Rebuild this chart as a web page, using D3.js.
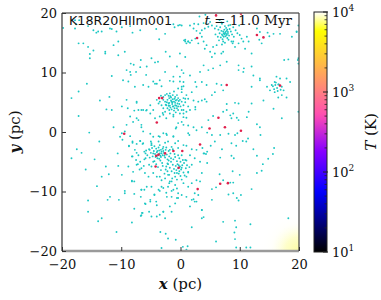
<!DOCTYPE html>
<html><head><meta charset="utf-8">
<script src="https://cdn.jsdelivr.net/npm/d3@7"></script>
<style>html,body{margin:0;padding:0;background:#fff;}svg{display:block;}</style>
</head><body>
<script>
// ---- data (pc) ----
const xTicks = [-20, -10, 0, 10, 20];
const yTicks = [-20, -10, 0, 10, 20];
const tempTicks = [10, 100, 1000, 10000];
const tempRange = [10, 10000];
const runLabel = "K18R20HIIm001";
const timeMyr = "11.0";

const fieldStars = [
[-17.8,17.4],[-14.7,17.1],[-14.2,16.7],[-13.3,16.9],[-11.6,17.3],[-9.9,17.6],[-8.5,17.8],[-8.1,16.7],[-6.8,17.1],[-4.1,17.3],[-2.6,16.5],[-1.0,17.6],[-0.4,17.9],[-3.6,15.6],
[-17.2,14.9],[-16.4,14.9],[-15.6,14.3],[-12.7,13.5],[-12.7,13.2],[-14.7,13.7],[-15.3,13.1],[-15.3,12.4],[-11.3,14.6],[-10.5,15.2],[-10.5,12.9],[-9.4,13.5],
[-8.4,11.5],[-7.9,11.3],[-6.7,12.1],[-7.5,10.1],[-8.5,10.1],[-9.1,10.4],[-8.4,9.6],[-6.8,10.9],[-5.8,9.6],[-5.7,11.0],[-4.9,12.4],[-4.3,11.7],[-3.8,11.8],
[-2.5,13.5],[-1.8,12.7],[-2.6,10.1],[-1.2,9.3],[-0.6,11.0],[-1.2,8.5],[-0.4,7.3],[-15.8,8.1],[-11.6,9.4],[-9.7,8.7],[-8.8,8.5],[-7.7,7.6],[-6.3,7.9],
[-5.4,7.6],[-4.6,8.5],[-4.0,8.1],[-3.5,8.7],[-17.2,6.8],[-18.4,5.7],[-12.0,5.9],[-13.6,5.3],[-12.5,3.8],[-11.6,3.7],[-9.9,4.3],[-8.9,4.0],[-8.5,2.6],
[-7.4,2.3],[-7.1,3.7],[-6.6,3.7],[-5.7,3.7],[-7.4,4.9],[-9.1,5.4],[-17.2,2.7],[-11.3,0.8],[-9.1,1.2],[-6.6,0.8],[-4.6,3.7],[-3.5,2.6],[-2.4,2.3],[-0.7,0.8],
[-19.8,17.5],[-17.8,18.8],[-17.6,18.1],[-17.1,18.8],[-15.6,17.8],[-13.9,16.9],[-11.9,17.4],[-10.8,16.9],[-1.2,18.1],[-0.1,18.0],[0.8,15.5],[1.3,15.2],
[-4.3,8.1],[-3.2,7.7],[-1.8,8.6],[-0.1,8.5],[0.5,7.7],[0.2,7.2],[-7.4,5.1],[-7.8,3.6],[-6.3,3.7],[-5.8,3.6],[-7.1,2.0],[-8.0,1.7],[-6.6,1.2],[-4.3,2.3],
[-2.9,2.9],[-5.1,4.5],[-5.1,3.1],[-1.2,2.6],[0.5,3.1],[1.3,4.3],[-0.4,1.5],[0.5,1.2],[-0.8,0.6],[-2.9,-0.2],[-2.3,-0.5],[-3.5,-0.8],[-4.6,-0.8],[-6.3,0.1],
[-1.2,-0.8],[1.3,-0.2],
[0.2,17.9],[1.6,17.9],[2.3,18.2],[3.0,18.1],[3.9,18.3],[4.4,18.2],[5.0,18.5],[3.2,19.4],[4.2,19.7],[2.2,17.4],[2.7,17.0],[3.6,17.1],[4.1,17.4],[4.7,17.7],[5.3,17.9],[5.8,17.4],
[3.3,16.6],[3.6,16.0],[2.5,15.7],[1.9,15.4],[1.3,15.2],[0.8,15.2],[0.6,15.4],[1.0,14.9],[1.6,15.0],
[3.0,14.9],[3.9,15.2],[4.4,14.6],[4.1,14.0],[5.5,14.3],[6.1,14.6],[5.0,13.5],[5.8,13.2],[6.9,13.2],[7.2,13.5],[5.3,12.6],
[8.9,15.2],[9.2,14.3],[9.8,14.9],[10.3,15.7],[10.6,15.2],[10.0,16.3],[11.2,16.0],[11.5,15.2],[10.9,14.0],[12.0,13.2],
[13.3,15.5],[13.7,14.9],[14.7,16.7],[15.0,16.1],[15.7,16.5],[16.8,16.5],[18.8,16.0],[19.6,16.8],[19.9,17.9],[12.9,17.4],[13.4,16.8],
[17.5,12.1],[18.2,12.2],[19.9,11.5],[19.9,12.4],[-0.1,13.2],[0.8,12.6],
[3.9,11.2],[4.7,10.4],[5.5,10.7],[6.7,11.2],[7.8,11.8],[9.8,11.2],[10.7,10.7],[12.0,11.0],[10.6,10.1],[12.3,9.5],[13.4,9.0],[9.8,10.4],
[0.2,10.4],[0.5,9.9],[-0.1,9.3],[0.5,8.4],[0.2,7.6],[1.6,9.5],[3.3,10.1],[2.5,8.4],[3.6,8.4],[4.4,7.9],[2.7,7.6],[1.9,6.7],[1.0,6.2],[0.8,5.6],[0.2,6.7],
[6.1,8.1],[6.9,7.9],[7.2,7.0],[5.8,6.7],[5.3,6.2],
[12.0,7.6],[13.4,8.7],[14.6,7.6],[15.1,7.0],[15.9,8.4],[16.2,9.3],[16.8,9.0],[17.4,7.0],[17.9,9.0],[18.5,8.4],[17.1,6.2],[16.5,5.8],[17.9,5.8],[15.9,6.7],[14.0,5.3],[15.7,3.9],[19.9,3.4],[17.1,2.3],
[1.3,5.6],[2.2,5.3],[3.6,5.3],[4.1,5.5],[4.4,5.1],[3.0,5.1],[2.5,4.2],[2.5,3.8],[1.6,3.7],[1.0,3.4],[0.5,3.7],[0.5,2.5],[1.0,2.4],[0.2,1.7],[1.3,1.1],[2.2,0.8],[2.7,0.3],[3.6,0.8],[4.7,2.0],[5.5,2.7],
[7.2,3.4],[7.8,3.7],[8.4,2.8],[8.6,2.3],[8.9,3.1],[9.5,2.4],[9.8,2.0],[11.2,2.5],[11.5,3.4],[12.9,1.3],[13.4,0.8],[12.0,4.8],[9.2,4.9],[9.8,4.8],[7.8,4.7],
[-15.4,-0.1],[-13.7,-1.6],[-17.5,-2.9],[-16.7,-3.5],[-18.4,-4.4],[-14.5,-4.6],[-16.0,-6.3],[-12.6,-5.8],[-13.3,-7.5],[-12.1,-7.1],[-10.6,-3.6],[-10.5,-5.7],
[-9.9,-7.2],[-14.1,-9.1],[-9.4,-9.9],[-15.6,-11.5],[-11.9,-10.9],[-12.3,-11.4],[-10.4,-11.4],[-15.6,-13.4],[-13.3,-14.5],[-13.9,-15.0],[-8.2,-15.2],
[-7.8,-12.9],[-10.8,-16.8],[-6.6,-14.0],[-6.5,-13.6],[-5.3,-13.4],[-5.9,-12.1],[-4.1,-11.7],[-5.1,-11.4],[-2.9,-13.4],[-7.8,-10.4],[-6.6,-9.7],[-6.1,-9.7],
[-4.4,-10.5],[-3.5,-9.9],[-2.9,-9.4],[-2.4,-10.2],[-1.5,-9.9],[-0.6,-9.5],[-0.4,-11.1],[-1.5,-10.9],[-1.9,-8.6],[-3.5,-7.5],[-8.2,-8.2],[-7.8,-8.3],[-9.4,-10.3],
[-3.4,-16.8],[-2.5,-17.1],[-2.1,-17.9],[-0.8,-18.1],[-3.2,-19.5],[-9.9,-0.2],[-9.4,0.1],[-10.2,-0.8],[-8.5,-0.7],[-9.8,-1.3],[-8.1,-1.6],[-8.7,-2.4],
[-6.8,-1.5],[-6.4,-2.0],[-7.4,-3.5],[-8.1,-4.1],[-7.5,-4.7],[-7.2,-5.4],[-6.9,-6.3],[-6.2,-5.7],[-5.9,-3.6],[-6.1,-4.6],[-5.1,-0.3],[-3.7,-0.7],[-2.4,-0.3],
[-1.2,-0.7],[-4.9,-1.9],[-5.2,-3.0],
[-8.7,-2.3],[-8.1,-1.8],[-7.4,-2.0],[-6.8,-1.5],[-6.3,-1.9],[-5.0,-1.6],[-4.9,-2.2],[-3.7,-1.6],[-2.6,-1.8],[-2.1,-1.6],[-0.9,-1.9],[-0.4,-1.5],[1.0,-2.3],
[1.9,-2.9],[2.7,-3.0],[3.7,-2.7],[4.0,-3.6],[2.4,-4.4],[3.3,-5.0],[1.9,-5.5],[3.6,-6.9],[2.7,-8.1],[3.3,-8.3],[1.9,-8.6],[1.3,-9.2],[2.4,-10.3],[3.0,-10.6],
[2.2,-11.3],[2.7,-11.7],[3.6,-13.1],[1.0,-10.9],[0.2,-10.6],[-0.6,-11.1],[-0.9,-12.0],[-1.8,-12.5],[-2.9,-13.4],[-3.5,-13.9],[-4.9,-14.2],[-4.0,-12.3],
[-5.1,-11.7],[-6.0,-12.0],[-6.7,-10.9],[-6.6,-9.7],[-5.7,-9.2],[-4.9,-9.2],[-4.4,-10.6],[-3.7,-9.7],[-3.2,-9.2],[-2.1,-9.2],[-1.2,-9.7],[-0.4,-10.3],
[-2.3,-10.9],[-8.2,-8.3],[-8.0,-6.7],[-8.8,-5.8],[-7.4,-5.5],[-6.8,-5.0],[-6.6,-6.1],[-6.0,-6.9],[-5.4,-7.5],[-7.1,-3.9],[-7.7,-3.0],[-8.2,-4.1],[-6.1,-3.3],
[-5.9,-4.4],[-5.3,-5.5],[-4.6,-6.9],[-4.0,-7.5],[-3.2,-8.1],[-2.6,-7.8],[-2.1,-7.2],[-1.5,-8.3],[-0.9,-8.9],[0.5,-8.6],[1.0,-7.5],[1.3,-6.7],[0.8,-4.7],
[0.2,-3.9],[1.6,-3.9],[-1.5,-2.5],[-0.4,-2.7],[0.5,-2.2],[-6.7,-14.1],[-6.4,-13.6],[-4.0,-14.2],[-2.6,-14.5],[-1.5,-13.4],
[1.5,-0.5],[4.5,-0.1],[5.3,-0.5],[6.7,-0.5],[8.1,-0.3],[9.2,-0.5],[9.6,-0.2],[11.4,-1.1],[13.5,-0.5],[10.5,-1.5],[11.1,-1.6],[8.6,-1.9],[9.4,-2.3],
[5.8,-1.6],[5.1,-2.3],[4.5,-3.3],[4.3,-3.7],[3.9,-3.6],[7.0,-2.9],[12.3,-2.9],[15.8,-2.7],[15.6,-3.7],[12.9,-4.0],[14.8,-4.5],[8.6,-4.0],[9.0,-4.4],
[6.7,-4.3],[4.5,-5.2],[13.9,-5.4],[13.7,-6.5],[12.9,-6.9],[10.0,-7.2],[8.8,-6.6],[6.6,-7.1],[12.0,-9.6],[10.2,-10.6],[9.5,-11.1],[9.8,-11.5],[8.9,-10.3],
[8.1,-10.5],[6.0,-9.3],[5.3,-9.6],[7.2,-8.1],[8.4,-8.5],[8.9,-8.5],[5.3,-11.4],[3.6,-13.1],[3.9,-14.3],[3.6,-14.5],[1.9,-16.0],[7.2,-15.1],[9.2,-14.9],
[9.4,-16.0],[9.1,-16.9],[9.2,-18.0],[11.8,-15.5],[18.2,-14.5],[6.0,-18.4],[9.4,-19.4],[11.1,-19.4],[11.8,-19.4],[0.4,-19.3],[1.2,-19.2],[1.0,-19.8],
[1.9,-11.4],[2.4,-11.7],[1.6,-12.5],[19.6,16.9],[19.8,12.1]
];

const clusterNorth = [
[7.5,16.6],[7.2,16.9],[7.8,16.3],[7.0,16.4],[8.0,16.8],[7.4,17.2],[7.7,17.5],[6.9,17.0],[8.2,16.2],[7.3,16.0],[7.9,15.8],[6.6,16.6],[8.5,16.9],[7.1,15.6],
[8.3,17.3],[7.6,16.1],[6.8,15.9],[8.7,16.4],[7.5,17.8],[6.4,17.2],[8.9,17.6],[7.2,15.2],[8.1,15.5],[6.3,16.0],[9.0,16.0],[7.0,18.2],[8.4,18.0],[6.7,17.6],
[7.8,17.0],[7.3,16.6],[7.6,16.8],[8.0,16.5],[7.1,16.2],[7.9,17.2],[6.9,18.4],[8.6,15.2],[6.1,17.8],[9.3,17.1],[7.5,15.0],[6.5,15.4],[7.7,16.5],[7.4,16.4],
[8.1,17.9],[6.6,18.8],[7.9,18.6],[9.6,16.6],[5.9,16.4],[7.0,14.7],[8.8,14.9],[9.9,17.9]
];

const clusterMid = [
[-2.6,6.2],[-2.3,6.4],[-2.0,6.1],[-1.8,6.5],[-1.3,6.2],[-0.9,5.9],[-0.6,6.2],[-0.4,5.7],[-0.1,5.4],[0.2,5.1],[0.5,4.5],[-2.9,5.4],[-2.6,5.1],[-2.2,5.4],
[-1.9,5.7],[-1.6,5.3],[-1.3,5.5],[-1.1,5.1],[-0.8,5.3],[-0.5,4.8],[-0.2,4.7],[0.0,4.3],[-2.4,4.5],[-2.0,4.8],[-1.8,4.4],[-1.4,4.7],[-1.2,4.3],[-0.9,4.5],
[-0.6,4.0],[-0.4,3.7],[-2.2,4.0],[-1.9,3.7],[-1.5,3.8],[-1.1,3.6],[-0.8,3.3],[-2.9,4.0],[-3.2,4.5],[-3.5,5.1],[-2.6,3.4],[-1.8,3.1],[-1.2,2.9],[-0.4,4.3],
[0.2,3.7],[0.5,5.7],[-2.9,5.9],[-3.3,6.1],[-3.7,4.8],[-4.0,5.4],[-0.1,3.1],[-1.5,5.1],[-1.9,4.9],[-0.9,4.9],[-1.3,4.3],[-1.7,4.1],[-0.6,5.4],[-1.0,5.6],
[-1.6,5.8],[-2.3,5.0],[-0.7,4.4],[-1.4,5.0],[-2.0,4.4],[-1.0,4.0],[-0.3,5.2],[-1.7,6.0],[-2.5,4.6],[-1.1,6.8],[0.8,5.0],[-3.0,3.2]
];

const clusterSouthWest = [
[-3.5,-3.6],[-3.2,-3.3],[-3.8,-3.9],[-4.0,-3.4],[-3.0,-3.9],[-3.6,-3.1],[-4.3,-3.7],[-2.8,-3.5],[-3.3,-4.2],[-3.9,-4.4],[-4.5,-3.2],[-2.5,-3.0],[-3.0,-2.8],
[-4.1,-2.8],[-4.7,-4.1],[-2.6,-4.3],[-3.4,-4.8],[-4.4,-4.9],[-2.3,-3.8],[-5.0,-3.5],[-3.7,-2.6],[-2.9,-2.5],[-4.8,-2.7],[-2.2,-4.6],[-3.1,-5.2],[-4.1,-5.4],
[-5.2,-4.3],[-2.0,-3.2],[-3.6,-4.5],[-4.2,-4.2],[-3.3,-3.0],[-2.7,-4.0],[-3.9,-3.2],[-4.6,-3.6],[-3.5,-2.2],[-5.3,-2.9],[-2.4,-2.6],[-1.9,-4.1],[-3.0,-5.7],
[-4.6,-5.0],[-5.6,-3.9],[-3.8,-5.9],[-2.2,-5.3],[-1.7,-3.6],[-4.9,-2.2],[-3.2,-3.6],[-3.7,-3.8],[-4.0,-4.0],[-2.9,-3.2],[-3.4,-4.0],[-2.0,-4.8],[-1.6,-4.4],
[-2.4,-5.8],[-1.8,-3.0],[-1.3,-2.9],[-2.5,-6.3],[-2.7,-7.0],[-1.8,-8.3],[-4.4,-2.4],[-5.8,-3.1],[-3.3,-6.4],[-4.9,-5.8]
];

const clusterSouth = [
[-0.4,-6.1],[-0.1,-5.8],[-0.7,-6.4],[-0.2,-6.6],[-0.8,-5.7],[0.1,-6.3],[-0.5,-5.4],[-1.1,-6.2],[0.3,-5.6],[-0.3,-7.0],[-1.0,-6.9],[0.5,-6.8],[-1.3,-5.5],
[0.6,-5.2],[-0.6,-4.9],[0.0,-7.4],[-1.5,-6.6],[0.9,-6.1],[-0.9,-7.5],[-1.6,-5.0],[0.4,-4.7],[-0.2,-4.4],[1.1,-5.6],[-1.8,-6.0],[0.7,-7.3],[-1.2,-4.6],
[-0.6,-8.0],[0.2,-8.0],[-1.9,-7.2],[1.3,-6.8],[-0.9,-4.2],[0.0,-5.0],[-0.3,-5.6],[-0.6,-6.9],[0.2,-6.0],[-1.4,-7.8],[1.0,-4.8],[-2.1,-5.4],[-2.2,-6.6],
[1.5,-5.9],[-0.4,-3.9],[-1.0,-3.7]
];

const clusterEast = [
[16.0,7.9],[16.3,7.4],[15.8,7.2],[16.6,8.0],[16.1,8.3],[15.6,7.7],[16.9,7.1],[16.4,6.9],[15.4,7.9],[17.1,7.6],[16.5,8.0]
];

const hotStars = [
[-3.6,5.7],[-3.1,5.7],[-4.0,1.6],[-9.5,-0.3],[6.0,19.6],[10.2,19.9],[2.8,15.8],[12.9,16.3],[14.0,15.9],[7.8,7.9],[16.8,7.8],[6.4,2.4],[7.5,0.8],
[4.9,0.6],[10.2,0.2],[-4.1,-4.0],[-3.7,-3.8],[-2.6,-3.6],[-4.2,-5.8],[-1.2,-3.2],[0.3,-3.2],[-0.3,-6.0],[3.3,-2.1],[2.9,-9.6],[6.7,-8.7],[8.0,-8.6]
];

// ---- drawing ----
const W = 381, H = 300;
const svg = d3.select("body").append("svg").attr("width", W).attr("height", H);
const x = d3.scaleLinear().domain([-20, 20]).range([62, 299]);
const y = d3.scaleLinear().domain([-20, 20]).range([251, 13]);
const c = d3.scaleLog().domain(tempRange).range([252, 12]);

const defs = svg.append("defs");
defs.append("clipPath").attr("id", "plotclip").append("rect")
  .attr("x", x(-20)).attr("y", y(20)).attr("width", x(20) - x(-20)).attr("height", y(-20) - y(20));

// gnuplot2 colormap
function gnuplot2(t) {
  const cl = v => Math.max(0, Math.min(1, v));
  const r = cl(t / 0.32 - 0.78125);
  const g = cl(2 * t - 0.84);
  const b = cl(t < 0.25 ? 4 * t : t < 0.42 ? 1 : t < 0.92 ? -2 * t + 1.84 : t / 0.08 - 11.5);
  return d3.rgb(r * 255, g * 255, b * 255).formatHex();
}
const cbGrad = defs.append("linearGradient").attr("id", "cbgrad")
  .attr("x1", 0).attr("y1", 1).attr("x2", 0).attr("y2", 0);
d3.range(0, 1.0001, 0.02).forEach(t => cbGrad.append("stop").attr("offset", t).attr("stop-color", gnuplot2(t)));

const glow = defs.append("radialGradient").attr("id", "glow")
  .attr("gradientUnits", "userSpaceOnUse").attr("cx", x(20)).attr("cy", y(-20)).attr("r", 40);
glow.append("stop").attr("offset", 0).attr("stop-color", "#fdfda0").attr("stop-opacity", 1);
glow.append("stop").attr("offset", 0.35).attr("stop-color", "#fefeb8").attr("stop-opacity", 0.75);
glow.append("stop").attr("offset", 0.7).attr("stop-color", "#fffff0").attr("stop-opacity", 0.25);
glow.append("stop").attr("offset", 1).attr("stop-color", "#ffffff").attr("stop-opacity", 0);

const plot = svg.append("g").attr("clip-path", "url(#plotclip)");
plot.append("rect").attr("x", x(-20)).attr("y", y(20)).attr("width", x(20) - x(-20)).attr("height", y(-20) - y(20)).attr("fill", "#fff");
plot.append("circle").attr("cx", x(20)).attr("cy", y(-20)).attr("r", 40).attr("fill", "url(#glow)");

const cyan = [].concat(fieldStars, clusterNorth, clusterMid, clusterSouthWest, clusterSouth, clusterEast);
plot.selectAll("circle.star").data(cyan).join("circle").attr("class", "star")
  .attr("cx", d => x(d[0])).attr("cy", d => y(d[1])).attr("r", 0.95)
  .attr("fill", "#1cc8c4");
plot.selectAll("circle.hot").data(hotStars).join("circle").attr("class", "hot")
  .attr("cx", d => x(d[0])).attr("cy", d => y(d[1])).attr("r", 1.3)
  .attr("fill", "#e0204c");

// frame
svg.append("line").attr("x1", x(-20)).attr("x2", x(20)).attr("y1", y(-20)).attr("y2", y(-20)).attr("stroke", "#9a9a9a").attr("stroke-width", 2.5);
svg.append("line").attr("x1", x(-20)).attr("x2", x(20)).attr("y1", y(20)).attr("y2", y(20)).attr("stroke", "#6a6a6a").attr("stroke-width", 1.3);
svg.append("line").attr("x1", x(-20)).attr("x2", x(-20)).attr("y1", y(20)).attr("y2", y(-20)).attr("stroke", "#333").attr("stroke-width", 1.2);
svg.append("line").attr("x1", x(20)).attr("x2", x(20)).attr("y1", y(20)).attr("y2", y(-20)).attr("stroke", "#444").attr("stroke-width", 1.2);

const fmt = d => (d < 0 ? "\u2212" + Math.abs(d) : String(d));
const serif = "'DejaVu Serif', serif";

const xAxis = svg.append("g").attr("transform", `translate(0,${y(-20)})`)
  .call(d3.axisBottom(x).tickValues(xTicks).tickFormat(fmt).tickSizeInner(-4).tickSizeOuter(0).tickPadding(9));
const yAxis = svg.append("g").attr("transform", `translate(${x(-20)},0)`)
  .call(d3.axisLeft(y).tickValues(yTicks).tickFormat(fmt).tickSizeInner(-4).tickSizeOuter(0).tickPadding(5));
[xAxis, yAxis].forEach(g => {
  g.select(".domain").remove();
  g.selectAll(".tick line").attr("stroke", "#333").attr("stroke-width", 1);
  g.selectAll(".tick text").attr("font-family", serif).attr("font-size", 13).attr("fill", "#111");
});

// labels
const xl = svg.append("text").attr("x", (x(-20) + x(20)) / 2).attr("y", 289).attr("text-anchor", "middle")
  .attr("font-family", serif).attr("font-size", 15).attr("fill", "#111");
xl.append("tspan").attr("font-style", "italic").attr("font-weight", "bold").text("x");
xl.append("tspan").text(" (pc)");
const yl = svg.append("text").attr("transform", `translate(20,${(y(-20) + y(20)) / 2}) rotate(-90)`).attr("text-anchor", "middle")
  .attr("font-family", serif).attr("font-size", 15).attr("fill", "#111");
yl.append("tspan").attr("font-style", "italic").attr("font-weight", "bold").text("y");
yl.append("tspan").text(" (pc)");

svg.append("text").attr("x", 69).attr("y", 25).attr("font-family", "'DejaVu Sans', sans-serif").attr("font-size", 12.7)
  .attr("fill", "#111").text(runLabel);
const tl = svg.append("text").attr("x", 292).attr("y", 25).attr("text-anchor", "end")
  .attr("font-family", serif).attr("font-size", 13.5).attr("fill", "#111");
tl.append("tspan").attr("font-style", "italic").text("t");
tl.append("tspan").text(" = " + timeMyr + " Myr");

// colorbar
const cbx = 314, cbw = 13;
svg.append("rect").attr("x", cbx).attr("y", c(1e4)).attr("width", cbw).attr("height", c(10) - c(1e4))
  .attr("fill", "url(#cbgrad)").attr("stroke", "#222").attr("stroke-width", 1);
const minor = [];
for (let e = 1; e < 4; e++) for (let m = 2; m <= 9; m++) minor.push(m * Math.pow(10, e));
svg.selectAll("line.cbminor").data(minor).join("line").attr("class", "cbminor")
  .attr("x1", cbx + cbw - 2.5).attr("x2", cbx + cbw).attr("y1", d => c(d)).attr("y2", d => c(d))
  .attr("stroke", "#222").attr("stroke-width", 0.8);
svg.selectAll("line.cbmajor").data(tempTicks).join("line").attr("class", "cbmajor")
  .attr("x1", cbx + cbw - 4).attr("x2", cbx + cbw + 1).attr("y1", d => c(d)).attr("y2", d => c(d))
  .attr("stroke", "#222").attr("stroke-width", 1);
const cbl = svg.selectAll("text.cblab").data(tempTicks).join("text").attr("class", "cblab")
  .attr("x", cbx + cbw + 5).attr("y", d => c(d) + 5)
  .attr("font-family", serif).attr("font-size", 13).attr("fill", "#111");
cbl.append("tspan").text("10");
cbl.append("tspan").attr("dy", -6).attr("font-size", 9).text(d => Math.round(Math.log10(d)));
const tlab = svg.append("text").attr("transform", `translate(376,${(c(10) + c(1e4)) / 2}) rotate(-90)`).attr("text-anchor", "middle")
  .attr("font-family", serif).attr("font-size", 15).attr("fill", "#111");
tlab.append("tspan").attr("font-style", "italic").text("T");
tlab.append("tspan").text(" (K)");
</script>
</body></html>
